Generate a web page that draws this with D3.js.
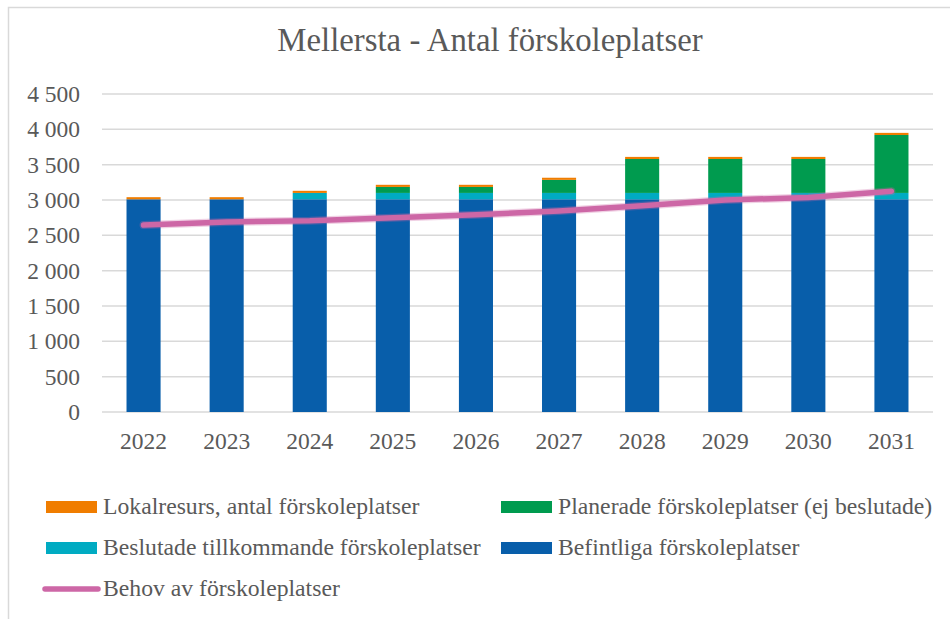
<!DOCTYPE html>
<html>
<head>
<meta charset="utf-8">
<script src="https://cdn.jsdelivr.net/npm/d3@7"></script>
<style>
  body { margin: 0; background: #fff; }
  text { font-family: "Times New Roman", "Liberation Serif", serif; fill: #595959; }
</style>
</head>
<body>
<svg id="chart" width="950" height="619"></svg>
<script>
// chart data
const years = ["2022", "2023", "2024", "2025", "2026", "2027", "2028", "2029", "2030", "2031"];
const befintliga = [3010, 3010, 3010, 3010, 3010, 3010, 3010, 3010, 3010, 3010];
const beslutade = [0, 0, 90, 90, 90, 90, 90, 90, 90, 90];
const planerade = [0, 0, 0, 85, 85, 185, 480, 480, 480, 820];
const lokalresurs = [30, 30, 30, 30, 30, 30, 30, 30, 30, 30];
const behov = [2645, 2690, 2705, 2750, 2790, 2845, 2920, 3000, 3035, 3125];
const yTicks = [0, 500, 1000, 1500, 2000, 2500, 3000, 3500, 4000, 4500];

const seriesKeys = ["befintliga", "beslutade", "planerade", "lokalresurs"];
const colors = {
    befintliga: "#085EAA",
    beslutade: "#00ABC2",
    planerade: "#009B4F",
    lokalresurs: "#F07D00"
};
const lineColor = "#CD67A6";

const table = years.map((y, i) => ({
    year: y,
    befintliga: befintliga[i],
    beslutade: beslutade[i],
    planerade: planerade[i],
    lokalresurs: lokalresurs[i],
    behov: behov[i]
}));

const svg = d3.select("#chart");

// outer frame of the chart area
svg.append("path")
    .attr("d", "M8.5,619 L8.5,7.5 L950,7.5")
    .attr("fill", "none")
    .attr("stroke", "#d9d9d9")
    .attr("stroke-width", 1.5);

// title
svg.append("text")
    .attr("x", 490)
    .attr("y", 51)
    .attr("text-anchor", "middle")
    .style("font-size", "32.8px")
    .text("Mellersta - Antal förskoleplatser");

const x = d3.scaleBand().domain(years).range([102, 933]).paddingInner(0.59).paddingOuter(0.295);
const y = d3.scaleLinear().domain([0, 4500]).range([412, 94]);

// gridlines
svg.append("g")
    .selectAll("line")
    .data(yTicks)
    .enter().append("line")
    .attr("x1", 102)
    .attr("x2", 933)
    .attr("y1", d => y(d))
    .attr("y2", d => y(d))
    .attr("stroke", "#d9d9d9")
    .attr("stroke-width", 1.5);

// y axis labels
const fmt = d => d3.format(",")(d).replace(/,/g, " ");
svg.append("g")
    .selectAll("text")
    .data(yTicks)
    .enter().append("text")
    .attr("x", 80)
    .attr("y", d => y(d) + 8)
    .attr("text-anchor", "end")
    .style("font-size", "23.5px")
    .text(d => fmt(d));

// stacked bars
const stack = d3.stack().keys(seriesKeys)(table);
svg.append("g")
    .selectAll("g")
    .data(stack)
    .enter().append("g")
    .attr("fill", d => colors[d.key])
    .selectAll("rect")
    .data(d => d)
    .enter().append("rect")
    .attr("x", d => x(d.data.year))
    .attr("width", x.bandwidth())
    .attr("y", d => y(d[1]))
    .attr("height", d => y(d[0]) - y(d[1]));

// x axis labels
svg.append("g")
    .selectAll("text")
    .data(years)
    .enter().append("text")
    .attr("x", d => x(d) + x.bandwidth() / 2)
    .attr("y", 449)
    .attr("text-anchor", "middle")
    .style("font-size", "23.5px")
    .text(d => d);

// behov line, with a faint halo like the original
const line = d3.line()
    .x(d => x(d.year) + x.bandwidth() / 2)
    .y(d => y(d.behov));

svg.append("path")
    .datum(table)
    .attr("d", line)
    .attr("fill", "none")
    .attr("stroke", lineColor)
    .attr("stroke-opacity", 0.3)
    .attr("stroke-width", 8)
    .attr("stroke-linecap", "round")
    .attr("stroke-linejoin", "round");

svg.append("path")
    .datum(table)
    .attr("d", line)
    .attr("fill", "none")
    .attr("stroke", lineColor)
    .attr("stroke-width", 5.5)
    .attr("stroke-linecap", "round")
    .attr("stroke-linejoin", "round");

// legend
const legendItems = [
    {label: "Lokalresurs, antal förskoleplatser", key: "lokalresurs", col: 0, row: 0},
    {label: "Planerade förskoleplatser (ej beslutade)", key: "planerade", col: 1, row: 0},
    {label: "Beslutade tillkommande förskoleplatser", key: "beslutade", col: 0, row: 1},
    {label: "Befintliga förskoleplatser", key: "befintliga", col: 1, row: 1},
    {label: "Behov av förskoleplatser", key: "behov", col: 0, row: 2}
];
const colX = [46, 501];

const legend = svg.append("g")
    .selectAll("g")
    .data(legendItems)
    .enter().append("g")
    .attr("transform", d => "translate(" + colX[d.col] + "," + (514 + d.row * 41) + ")");

legend.filter(d => d.key !== "behov")
    .append("rect")
    .attr("x", 0)
    .attr("y", -13)
    .attr("width", 51)
    .attr("height", 12)
    .attr("fill", d => colors[d.key]);

legend.filter(d => d.key === "behov")
    .append("line")
    .attr("x1", -1)
    .attr("x2", 52)
    .attr("y1", -7)
    .attr("y2", -7)
    .attr("stroke", lineColor)
    .attr("stroke-width", 5.5)
    .attr("stroke-linecap", "round");

legend.append("text")
    .attr("x", 57)
    .attr("y", 0)
    .style("font-size", "23.7px")
    .text(d => d.label);
</script>
</body>
</html>
